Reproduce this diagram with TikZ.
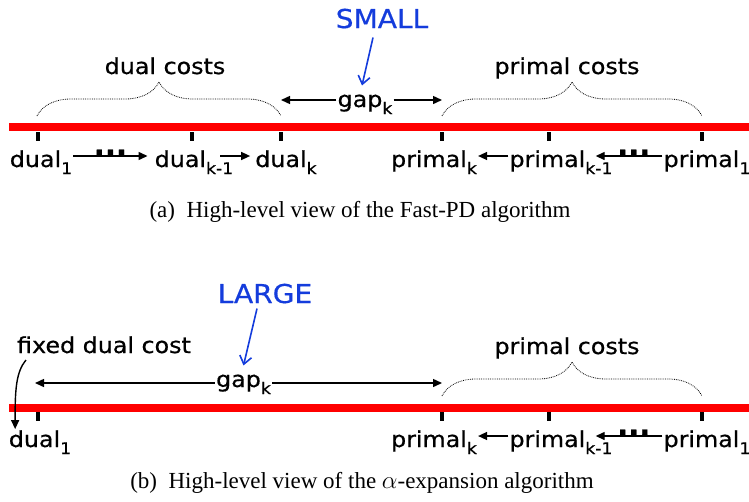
\documentclass[tikz,border=0pt]{standalone}
\usepackage{fontspec}
\setmainfont{Liberation Serif}
\newfontfamily\comicfont[FakeStretch=1.08, FakeBold=0.6]{DejaVu Sans}
\usetikzlibrary{arrows.meta, decorations.pathreplacing}
\definecolor{noteblue}{RGB}{20,60,220}
\newcommand\low[1]{\raisebox{-7pt}{\fontsize{16}{18}\selectfont #1}}

\begin{document}
\begin{tikzpicture}[x=1pt, y=-1pt,
lbl/.style={anchor=base, inner sep=1pt, font=\comicfont\fontsize{22}{26}\selectfont},
note/.style={anchor=base, inner sep=0pt, text=noteblue, font=\comicfont\fontsize{26}{30}\selectfont},
tick/.style={rectangle, fill=black, minimum width=4.5pt, minimum height=9pt, inner sep=0pt},
bar/.style={line width=8pt, red},
brc/.style={decorate, decoration={brace, amplitude=34pt}, densely dotted, line width=0.8pt},
arr/.style={-{Triangle[length=9pt, width=8pt]}, line width=1.4pt},
notearr/.style={-{Straight Barb[length=8pt, width=12pt]}, line width=1.6pt, noteblue},
dotsl/.style={anchor=south, inner sep=0.5pt, font=\comicfont\bfseries\fontsize{27}{30}\selectfont},
capt/.style={anchor=base, inner sep=0pt, font=\fontsize{23}{27}\selectfont}
]
\useasboundingbox (0,0) rectangle (749,501);

% (a) Fast-PD
\draw[bar] (9,127) -- (749,127);
\node[tick] (T1) at (38,136.5) {};
\node[tick] (T2) at (192,136.5) {};
\node[tick] (T3) at (281,136.5) {};
\node[tick] (T4) at (442,136.5) {};
\node[tick] (T5) at (549,136.5) {};
\node[tick] (T6) at (702,136.5) {};

\node[lbl] (D1) at (41,167) {dual\low{1}};
\node[lbl] (Dk1) at (194,167) {dual\low{k-1}};
\node[lbl] (Dk) at (286,167) {dual\low{k}};
\node[lbl] (Pk) at (434,167) {primal\low{k}};
\node[lbl] (Pk1) at (561,167) {primal\low{k-1}};
\node[lbl] (P1) at (707,167) {primal\low{1}};

\draw[arr] ([yshift=11pt]D1.base east) -- node[dotsl]{...} ([xshift=-6pt,yshift=11pt]Dk1.base west);
\draw[arr] ([xshift=-14pt,yshift=11pt]Dk1.base east) -- ([xshift=-4pt,yshift=11pt]Dk.base west);
\draw[arr] ([yshift=11pt]Pk1.base west) -- ([yshift=11pt]Pk.base east);
\draw[arr] ([yshift=11pt]P1.base west) -- node[dotsl, pos=0.43]{...} ([xshift=-18pt,yshift=11pt]Pk1.base east);

\draw[brc] (37,116) -- (281,116);
\draw[brc] (442,116) -- (702,116);
\node[lbl] (DC) at (165,74) {dual costs};
\node[lbl] (PC) at (567,74) {primal costs};

\node[lbl] (G) at (365,107) {gap\low{k}};
\coordinate (Gl) at ([yshift=7pt]G.base west);
\coordinate (Gr) at ([yshift=7pt]G.base east);
\draw[arr] (Gl) -- (Gl -| T3);
\draw[arr] (Gr) -- (Gr -| T4);

\node[note] (S) at (382,28) {SMALL};
\draw[notearr] ([xshift=-9pt,yshift=-9pt]S.south) -- ([xshift=-3pt,yshift=8pt]G.north);

\node[capt] (CA) at (360,217) {(a)\enspace High-level view of the Fast-PD algorithm};

% (b) alpha-expansion
\draw[bar] (9,407.5) -- (749,407.5);
\node[tick] (B1) at (38,416.5) {};
\node[tick] (B4) at (442,416.5) {};
\node[tick] (B5) at (549,416.5) {};
\node[tick] (B6) at (702,416.5) {};

\node[lbl] (DB1) at (40,447) {dual\low{1}};
\node[lbl] (PBk) at (434,447) {primal\low{k}};
\node[lbl] (PBk1) at (561,447) {primal\low{k-1}};
\node[lbl] (PB1) at (707,447) {primal\low{1}};

\draw[arr] ([yshift=11pt]PBk1.base west) -- ([yshift=11pt]PBk.base east);
\draw[arr] ([yshift=11pt]PB1.base west) -- node[dotsl, pos=0.43]{...} ([xshift=-18pt,yshift=11pt]PBk1.base east);

\draw[brc] (442,396) -- (702,396);
\node[lbl] (PCB) at (567,354) {primal costs};

\node[lbl] (F) at (104,353) {fixed dual cost};
\draw[arr] ([xshift=10pt,yshift=-7pt]F.base west) .. controls (16,372) and (15,390) .. ([xshift=7.5pt]DB1.north west);

\node[lbl] (GB) at (243.5,387) {gap\low{k}};
\coordinate (GBl) at ([yshift=4pt]GB.base west);
\coordinate (GBr) at ([yshift=4pt]GB.base east);
\draw[arr] (GBl) -- ([xshift=-3pt]GBl -| B1);
\draw[arr] (GBr) -- (GBr -| B4);

\node[note] (L) at (265,303) {LARGE};
\draw[notearr] ([xshift=-8pt,yshift=-5pt]L.south) -- ([xshift=0pt,yshift=8pt]GB.north);

\node[capt] (CB) at (362,488) {(b)\enspace High-level view of the $\alpha$-expansion algorithm};
\end{tikzpicture}
\end{document}
